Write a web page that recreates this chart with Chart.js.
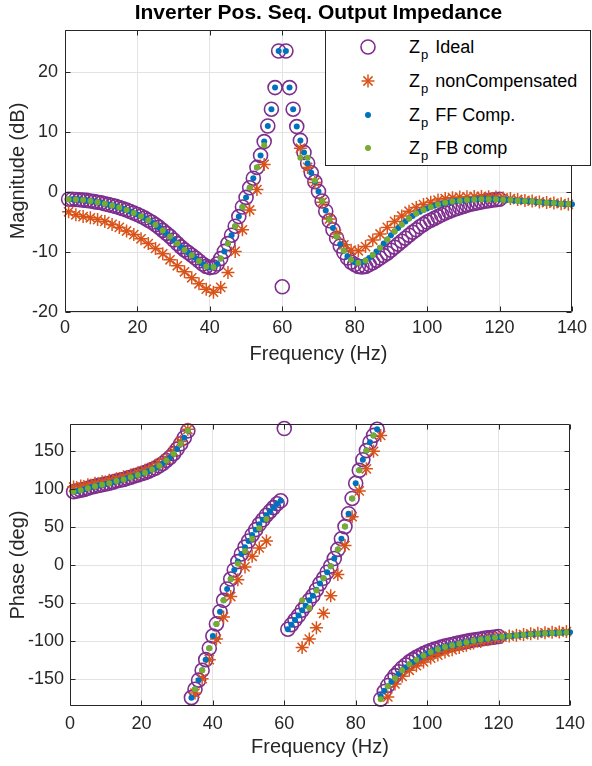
<!DOCTYPE html>
<html>
<head>
<meta charset="utf-8">
<script src="https://cdn.jsdelivr.net/npm/chart.js@4.4.1/dist/chart.umd.min.js"></script>
<style>
  html,body{margin:0;padding:0;background:#fff;}
  body{width:592px;height:766px;position:relative;overflow:hidden;font-family:"Liberation Sans",Arial,Helvetica,sans-serif;}
  canvas{position:absolute;left:0;}
  #title{position:absolute;top:0;left:318.5px;transform:translateX(-50%);white-space:nowrap;font-weight:bold;font-size:21px;line-height:24px;color:#000;}
  #legend{position:absolute;left:325px;top:30px;width:266px;height:136px;box-sizing:border-box;border:1px solid #262626;background:#fff;}
  .row{position:absolute;left:0;width:100%;height:22px;}
  .row svg{position:absolute;left:30px;top:-1px;}
  .row .txt{position:absolute;left:83px;top:0;font-size:18px;line-height:22px;color:#000;white-space:nowrap;}
  .row sub{font-size:13px;vertical-align:-6px;line-height:0;margin-left:1px;margin-right:2px;}
</style>
</head>
<body>
<canvas id="magChart" width="592" height="380" style="top:0;width:592px;height:380px"></canvas>
<canvas id="phaseChart" width="592" height="383" style="top:383px;width:592px;height:383px"></canvas>
<div id="title">Inverter Pos. Seq. Output Impedance</div>
<div id="legend">
  <div class="row" style="top:4.5px"><svg width="24" height="24" viewBox="0 0 24 24"><circle cx="12" cy="12" r="7" fill="none" stroke="#7E2F8E" stroke-width="1.6"/></svg><span class="txt">Z<sub>p</sub> Ideal</span></div>
  <div class="row" style="top:39px"><svg width="24" height="24" viewBox="0 0 24 24"><g stroke="#D95319" stroke-width="1.5"><line x1="12" y1="5.5" x2="12" y2="18.5"/><line x1="5.5" y1="12" x2="18.5" y2="12"/><line x1="7.4" y1="7.4" x2="16.6" y2="16.6"/><line x1="16.6" y1="7.4" x2="7.4" y2="16.6"/></g></svg><span class="txt">Z<sub>p</sub> nonCompensated</span></div>
  <div class="row" style="top:72.5px"><svg width="24" height="24" viewBox="0 0 24 24"><circle cx="12" cy="12" r="3" fill="#0072BD"/></svg><span class="txt">Z<sub>p</sub> FF Comp.</span></div>
  <div class="row" style="top:106px"><svg width="24" height="24" viewBox="0 0 24 24"><circle cx="12" cy="12" r="3" fill="#77AC30"/></svg><span class="txt">Z<sub>p</sub> FB comp</span></div>
</div>
<script>
// ---------- data ----------
const freqAll = [1,2,3,4,5,6,7,8,9,10,11,12,13,14,15,16,17,18,19,20,
21,22,23,24,25,26,27,28,29,30,31,32,33,34,35,36,37,38,39,40,
41,42,43,44,45,46,47,48,49,50,51,52,53,54,55,56,57,58,59,60,
61,62,63,64,65,66,67,68,69,70,71,72,73,74,75,76,77,78,79,80,
81,82,83,84,85,86,87,88,89,90,91,92,93,94,95,96,97,98,99,100,
101,102,103,104,105,106,107,108,109,110,111,112,113,114,115,116,117,118,119,120,
121,122,123,124,125,126,127,128,129,130,131,132,133,134,135,136,137,138,139,140];
const freqOdd = [1,3,5,7,9,11,13,15,17,19,21,23,25,27,29,31,33,35,37,39,
41,43,45,47,49,51,53,55,57,59,61,63,65,67,69,71,73,75,77,79,
81,83,85,87,89,91,93,95,97,99,101,103,105,107,109,111,113,115,117,119,
121,123,125,127,129,131,133,135,137,139];

const freqTicks = [0,20,40,60,80,100,120,140];
const magTicks = [-20,-10,0,10,20];
const phaseTicks = [-150,-100,-50,0,50,100,150];

// Magnitude (dB)
const idealMag = [-1.2,-1.2,-1.25,-1.3,-1.35,-1.4,-1.5,-1.6,-1.7,-1.8,
-1.95,-2.1,-2.25,-2.4,-2.6,-2.8,-3.0,-3.25,-3.5,-3.75,
-4.05,-4.35,-4.7,-5.05,-5.45,-5.9,-6.4,-6.9,-7.4,-8.0,
-8.6,-9.15,-9.65,-10.1,-10.55,-11.0,-11.5,-12.0,-12.4,-12.6,
-12.5,-12.0,-11.1,-9.9,-8.6,-7.2,-5.7,-4.1,-2.5,-0.9,
0.7,2.3,4.1,6.1,8.4,11.0,13.8,17.4,23.5,-15.8,
23.5,17.4,13.8,10.9,8.6,6.6,4.8,3.2,1.7,0.1,
-1.5,-3.2,-4.8,-6.3,-7.7,-9.0,-10.1,-11.0,-11.7,-12.1,
-12.4,-12.5,-12.4,-12.1,-11.8,-11.4,-11.0,-10.6,-10.2,-9.7,
-9.2,-8.7,-8.2,-7.7,-7.2,-6.7,-6.3,-5.8,-5.4,-5.0,
-4.7,-4.4,-4.1,-3.8,-3.5,-3.25,-3.0,-2.8,-2.6,-2.4,
-2.2,-2.05,-1.9,-1.8,-1.65,-1.55,-1.45,-1.35,-1.3,-1.2];

const nonCompMag = [-3.3,-3.8,-4.1,-4.3,-4.6,-4.9,-5.4,-5.9,-6.5,-7.1,
-7.8,-8.6,-9.4,-10.3,-11.3,-12.3,-13.3,-14.3,-15.3,-16.2,
-16.7,-15.9,-13.4,-9.9,-6.3,-3.0,0.4,4.6,null,null,
null,null,7.3,4.1,1.6,-1.7,-4.5,-7.0,-8.8,-9.7,
-9.8,-9.1,-8.0,-7.0,-5.9,-4.9,-4.0,-3.2,-2.6,-2.1,
-1.7,-1.35,-1.1,-0.95,-0.85,-0.8,-0.75,-0.75,-0.8,-0.85,
-1.0,-1.1,-1.25,-1.4,-1.5,-1.65,-1.75,-1.85,-1.95,-2.05];

const ffMag = [-1.2,-1.2,-1.25,-1.3,-1.35,-1.4,-1.5,-1.6,-1.7,-1.8,
-1.95,-2.1,-2.25,-2.4,-2.6,-2.8,-3.0,-3.25,-3.5,-3.75,
-4.05,-4.35,-4.7,-5.05,-5.45,-5.9,-6.4,-6.9,-7.4,-8.0,
-8.6,-9.15,-9.65,-10.1,-10.55,-11.0,-11.5,-12.0,-12.4,-12.6,
-12.5,-12.0,-11.1,-9.9,-8.6,-7.2,-5.7,-4.1,-2.5,-0.9,
0.7,2.3,4.1,6.1,8.4,11.0,13.8,17.4,23.5,null,
23.5,17.4,13.8,10.9,8.6,6.6,4.8,3.2,1.7,0.1,
-1.5,-3.1,-4.6,-6.0,-7.4,-8.7,-9.8,-10.7,-11.3,-11.7,
-11.8,-11.7,-11.4,-11.0,-10.5,-9.9,-9.3,-8.6,-7.9,-7.2,
-6.6,-6.0,-5.4,-4.9,-4.4,-4.0,-3.6,-3.3,-3.0,-2.75,
-2.5,-2.3,-2.1,-1.95,-1.8,-1.7,-1.6,-1.5,-1.45,-1.4,
-1.35,-1.3,-1.25,-1.2,-1.2,-1.2,-1.2,-1.2,-1.2,-1.25,
-1.3,-1.3,-1.35,-1.4,-1.45,-1.5,-1.5,-1.55,-1.6,-1.65,
-1.7,-1.75,-1.8,-1.8,-1.85,-1.9,-1.95,-2.0,-2.0,-2.05];

const fbMag = [-1.2,-1.25,-1.35,-1.5,-1.7,-1.95,-2.25,-2.6,-3.0,-3.5,
-4.05,-4.7,-5.45,-6.4,-7.4,-8.6,-9.65,-10.55,-11.5,-12.4,
-12.5,-11.1,-8.6,-5.7,-2.5,0.7,4.1,7.8,null,null,
null,null,5.7,5.7,1.9,-1.5,-4.6,-7.4,-9.8,-11.3,
-11.8,-11.4,-10.5,-9.3,-7.9,-6.6,-5.4,-4.4,-3.6,-3.0,
-2.5,-2.1,-1.8,-1.6,-1.45,-1.35,-1.25,-1.2,-1.2,-1.2,
-1.3,-1.35,-1.45,-1.5,-1.6,-1.7,-1.8,-1.85,-1.95,-2.0];

// Phase (deg)
const idealPh = [97,98,99,100,101.5,103,104,105,106,107,
108,109.5,111,112,113,114.5,116,117.5,119,120.5,
122,124,126,128,131,134,138,142,147,153,
160,168,177,-174,-163,-151,-138,-124,-109,-93,
-77,-61,-46,-31,-18,-6,5,15,24,32,
40,47,54,60,66,71,76,81,85,180,
-84,-78,-72,-66,-59,-53,-46,-40,-32,-24,
-17,-9,-1,9,21,35,51,68,88,108,
125,139,151,162,171,179,-176,-166,-158,-151,
-145,-140,-135,-131,-127,-124,-121,-118.5,-116,-114,
-112,-110.5,-109,-107.5,-106,-105,-104,-103,-102,-101,
-100,-99,-98.2,-97.5,-96.8,-96,-95.4,-94.8,-94.2,-93.6];

const nonCompPh = [103,104.5,106,108,110,112,114,116.5,119,122,
125,129,134,140,150,163,179,-168,-149,-124,
-97,-68,-41,-19,-2,12,23,32,null,null,
null,null,-108,-97,-82,-63,-40,-12,26,64,
98,127,150,171,-173,-156,-146,-138,-132,-127,
-122,-118,-114,-111,-108,-105,-102,-100,-98,-96,
-94.5,-93,-92,-91,-90,-89.3,-88.7,-88,-87.5,-87];

const ffPh = [97,98,99,100,101.5,103,104,105,106,107,
108,109.5,111,112,113,114.5,116,117.5,119,120.5,
122,124,126,128,131,134,138,142,147,153,
160,168,177,-174,-163,-151,-138,-124,-109,-93,
-77,-61,-46,-31,-18,-6,5,15,24,32,
40,47,54,60,66,71,76,81,85,null,
-84,-78,-72,-66,-59,-53,-46,-40,-32,-24,
-17,-9,-1,9,21,35,51,68,88,108,
125,139,151,162,171,179,-172,-165,-159,-153,
-148,-143,-138,-134,-130,-127,-124,-121,-118.5,-116,
-114,-112,-110.5,-109,-107.5,-106,-105,-104,-103,-102,
-101,-100,-99,-98.2,-97.5,-96.8,-96.1,-95.5,-95,-94.5,
-94,-93.5,-93,-92.6,-92.2,-91.8,-91.4,-91,-90.7,-90.4,
-90.1,-89.8,-89.5,-89.2,-89,-88.8,-88.6,-88.4,-88.2,-88];

const fbPh = [97,99,101.5,104,106,108,111,113,116,119,
122,126,131,138,147,160,177,-163,-138,-109,
-77,-46,-18,2,19,35,49,61,null,null,
null,null,-46,-56,-33,-17,-1,21,51,88,
125,151,171,-176,-159,-148,-138,-130,-124,-118.5,
-114,-110.5,-107.5,-105,-103,-101,-99,-97.5,-96.1,-95,
-94,-93,-92.2,-91.4,-90.7,-90.1,-89.5,-89,-88.6,-88.2];

// ---------- helpers ----------
function toPoints(xs, ys) {
  const out = [];
  ys.forEach((y, i) => { if (y !== null && y !== undefined) out.push({x: xs[i], y: y}); });
  return out;
}

const COL_IDEAL = '#7E2F8E', COL_NC = '#D95319', COL_FF = '#0072BD', COL_FB = '#77AC30';
const AXIS_COL = '#262626';
const FONT = '"Liberation Sans", Arial, Helvetica, sans-serif';
Chart.defaults.font.family = FONT;
Chart.defaults.color = AXIS_COL;

function datasets(iy, ny, fy, by) {
  return [
    {label:'Ideal', data: toPoints(freqAll, iy), pointStyle:'circle', pointRadius:7, pointBorderWidth:1.6,
     pointBorderColor: COL_IDEAL, pointBackgroundColor:'rgba(0,0,0,0)', showLine:false, clip:false, order:4},
    {label:'nonCompensated', data: toPoints(freqOdd, ny), pointStyle:'star', pointRadius:6.5, pointBorderWidth:1.5,
     pointBorderColor: COL_NC, pointBackgroundColor: COL_NC, showLine:false, clip:false, order:3},
    {label:'FF Comp.', data: toPoints(freqAll, fy), pointStyle:'circle', pointRadius:3, pointBorderWidth:0,
     pointBorderColor: COL_FF, pointBackgroundColor: COL_FF, showLine:false, clip:false, order:2},
    {label:'FB comp', data: toPoints(freqOdd, by), pointStyle:'circle', pointRadius:3, pointBorderWidth:0,
     pointBorderColor: COL_FB, pointBackgroundColor: COL_FB, showLine:false, clip:false, order:1}
  ];
}

const framePlugin = {
  id: 'frame',
  afterDraw(chart) {
    const {ctx, chartArea: a, scales} = chart;
    const L = Math.round(a.left) + 0.5, R = Math.round(a.right) - 0.5;
    const T = Math.round(a.top) + 0.5, B = Math.round(a.bottom) - 0.5;
    ctx.save();
    ctx.strokeStyle = AXIS_COL;
    ctx.lineWidth = 1;
    ctx.beginPath();
    ctx.rect(L, T, R - L, B - T);
    const tl = 5;
    scales.x.ticks.forEach(t => {
      const p = Math.round(scales.x.getPixelForValue(t.value)) + 0.5;
      ctx.moveTo(p, B); ctx.lineTo(p, B - tl);
      ctx.moveTo(p, T); ctx.lineTo(p, T + tl);
    });
    scales.y.ticks.forEach(t => {
      const p = Math.round(scales.y.getPixelForValue(t.value)) + 0.5;
      ctx.moveTo(L, p); ctx.lineTo(L + tl, p);
      ctx.moveTo(R, p); ctx.lineTo(R - tl, p);
    });
    ctx.stroke();
    ctx.restore();
  }
};

function makeChart(id, o) {
  return new Chart(document.getElementById(id), {
    type: 'scatter',
    data: { datasets: o.datasets },
    options: {
      responsive: false, animation: false, devicePixelRatio: 1, events: [],
      layout: { padding: o.padding },
      plugins: { legend: {display:false}, tooltip: {enabled:false}, title:{display:false} },
      scales: {
        x: {
          type:'linear', min:0, max:140,
          afterBuildTicks: s => { s.ticks = freqTicks.map(v => ({value:v})); },
          afterFit: s => { s.height = o.xHeight; },
          grid: { color:'#e3e3e3', lineWidth:1, drawTicks:false },
          border: { display:false },
          ticks: { padding:o.xTickPad, color:AXIS_COL, font:{size:18}, maxRotation:0, autoSkip:false },
          title: { display:true, text:'Frequency (Hz)', color:AXIS_COL, font:{size:20}, padding:{top:0, bottom:o.xTitlePad} }
        },
        y: {
          type:'linear', min:o.yMin, max:o.yMax,
          afterBuildTicks: s => { s.ticks = o.yTicks.map(v => ({value:v})); },
          afterFit: s => { s.width = o.yWidth; },
          grid: { color:'#e3e3e3', lineWidth:1, drawTicks:false },
          border: { display:false },
          ticks: { padding:o.yTickPad, color:AXIS_COL, font:{size:18}, autoSkip:false },
          title: { display:true, text:o.yTitle, color:AXIS_COL, font:{size:20}, padding:{top:6, bottom:0} }
        }
      }
    },
    plugins: [framePlugin]
  });
}

makeChart('magChart', {
  datasets: datasets(idealMag, nonCompMag, ffMag, fbMag),
  padding: {top:30, left:0, right:20, bottom:0},
  xHeight: 68, yWidth: 65, xTickPad: 5, xTitlePad: 14, yTickPad: 7,
  yMin: -20, yMax: 27, yTicks: magTicks, yTitle: 'Magnitude (dB)'
});

makeChart('phaseChart', {
  datasets: datasets(idealPh, nonCompPh, ffPh, fbPh),
  padding: {top:41, left:0, right:16, bottom:0},
  xHeight: 60, yWidth: 70, xTickPad: 7, xTitlePad: 7, yTickPad: 6,
  yMin: -185, yMax: 186, yTicks: phaseTicks, yTitle: 'Phase (deg)'
});
</script>
</body>
</html>
